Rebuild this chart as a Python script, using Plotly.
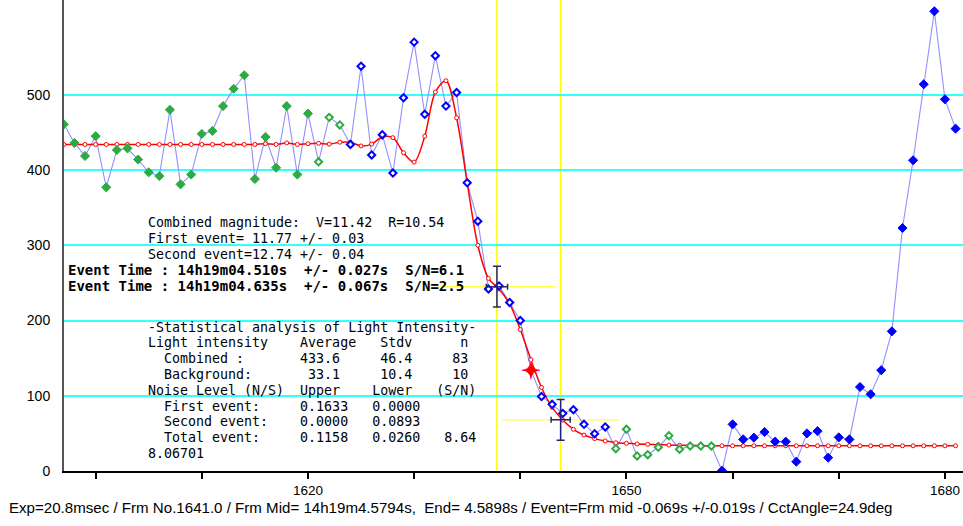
import plotly.graph_objects as go

# ---------------- data ----------------
frames = list(range(1597, 1682))
intensity = [
    460.7, 436, 418.6, 445, 377, 426.6, 428.8, 414, 397, 392,      # 1597-1606
    480, 381, 394, 448, 452, 485, 508, 526, 388, 444,              # 1607-1616
    403, 485, 394, 475, 411, 470, 460, 434, 538, 420,              # 1617-1626
    447, 396, 496, 570, 474, 552, 485, 503, 383, 332,              # 1627-1636
    242, 246, 224, 200, 134, 99, 88.6, 76.6, 81.5, 62,             # 1637-1646
    49.6, 58.5, 29.7, 55.4, 20, 21.7, 31.5, 47, 28.8, 33.2,        # 1647-1656
    33.2, 33.2, 0.4, 62, 42, 44.3, 51.8, 39, 39, 12.4,             # 1657-1666
    50, 53, 17.7, 44.7, 42, 111.6, 102, 134, 185.6, 323,           # 1667-1676
    413, 514, 611, 494, 455,                                       # 1677-1681
]
model = [
    434, 434, 434, 434, 434, 434, 434, 434, 434, 434,              # 1597-1606
    434, 434, 434, 434, 434, 434, 434, 434, 434, 435,              # 1607-1616
    434, 436, 434, 435, 435.5, 434.5, 437, 437, 432, 434.5,        # 1617-1626
    444, 443, 423, 410.6, 445, 503.6, 518.7, 469.5, 383, 300,      # 1627-1636
    256, 242, 222, 188, 148, 111, 84.6, 67.8, 55.4, 47.8,          # 1637-1646
    43, 40, 37.6, 36.8, 36, 35.5, 35, 34.5, 34.2, 34,              # 1647-1656
    33.8, 33.6, 33.5, 33.5, 33.5, 33.5, 33.5, 33.5, 33.5, 33.5,    # 1657-1666
    33.5, 33.5, 33.5, 33.5, 33.5, 33.5, 33.5, 33.5, 33.5, 33.5,    # 1667-1676
    33.5, 33.5, 33.5, 33.5, 33.5,                                  # 1677-1681
]
# point classes: (name, first frame, last frame)
segments = [
    ("green_filled", 1597, 1620),
    ("green_open", 1621, 1623),
    ("blue_open", 1624, 1648),
    ("green_open", 1649, 1658),
    ("blue_filled", 1659, 1681),
]
current_frame = 1641

event_frames = [1637.8, 1643.8]
event_levels = [245, 68]
event_xerr = [1.0, 0.9]
event_yerr = [27, 27]
event_span = [5.5, 5.5]

x_tick_vals = [1600, 1610, 1620, 1630, 1640, 1650, 1660, 1670, 1680]
x_tick_text = ["", "", "1620", "", "", "1650", "", "", "1680"]
y_tick_vals = [0, 100, 200, 300, 400, 500]
y_tick_text = ["0", "100", "200", "300", "400", "500"]
x_range = [1597.02, 1681.7]
y_range = [0, 626]

# ---------------- styles ----------------
GREEN = "#2eaa44"
BLUE = "#0000ff"
styles = {
    "green_filled": dict(symbol="diamond", size=7, color=GREEN, line=dict(color=GREEN, width=1)),
    "green_open": dict(symbol="diamond", size=5.5, color="white", line=dict(color=GREEN, width=2)),
    "blue_open": dict(symbol="diamond", size=5.5, color="white", line=dict(color=BLUE, width=2)),
    "blue_filled": dict(symbol="diamond", size=7, color=BLUE, line=dict(color=BLUE, width=1)),
}

fig = go.Figure()

# yellow event lines (below data)
for ef, el, sp in zip(event_frames, event_levels, event_span):
    fig.add_shape(type="line", xref="x", yref="paper", x0=ef, x1=ef, y0=0, y1=1,
                  line=dict(color="#ffff00", width=1.6), layer="below")
    fig.add_shape(type="line", xref="x", yref="y", x0=ef - sp, x1=ef + sp, y0=el, y1=el,
                  line=dict(color="#ffff44", width=1.4), layer="below")

# connecting line through observations
fig.add_trace(go.Scatter(x=frames, y=intensity, mode="lines",
                         line=dict(color="#9090ff", width=1.1), hoverinfo="skip"))

# model curve
fig.add_trace(go.Scatter(x=frames, y=model, mode="lines+markers",
                         line=dict(color="#ff0000", width=1.5, shape="spline", smoothing=0.9),
                         marker=dict(symbol="circle", size=4, color="white",
                                     line=dict(color="#ff0000", width=1))))

# observation markers by class
for name, f0, f1 in segments:
    xs, ys = [], []
    for f, v in zip(frames, intensity):
        if f0 <= f <= f1 and f != current_frame:
            xs.append(f)
            ys.append(v)
    fig.add_trace(go.Scatter(x=xs, y=ys, mode="markers", marker=styles[name]))

# event error bars
fig.add_trace(go.Scatter(
    x=event_frames, y=event_levels, mode="markers",
    marker=dict(size=1, color="rgba(0,0,0,0)"),
    error_x=dict(type="data", array=event_xerr, color="#22227a", thickness=1.5, width=3),
    error_y=dict(type="data", array=event_yerr, color="#22227a", thickness=1.5, width=4),
))

# current frame marker
cur_val = intensity[frames.index(current_frame)]
fig.add_trace(go.Scatter(x=[current_frame], y=[cur_val], mode="markers",
                         marker=dict(symbol="cross-thin", size=13,
                                     line=dict(color="#ff33ff", width=1.5))))
fig.add_trace(go.Scatter(x=[current_frame], y=[cur_val], mode="markers",
                         marker=dict(symbol="star-diamond", size=11, color="#ff0000",
                                     line=dict(color="#ff0000", width=0.5))))

# ---------------- text ----------------
L, R, B = 64, 0, 55
PW, PH = 963 - L - R, 526 - B


def px(x, y):
    return (x - L) / PW, (PH - y) / PH


MONO = "DejaVu Sans Mono"


def add_text(x, y, text, size=13.3, bold=False, family=MONO):
    xx, yy = px(x, y)
    t = text.replace(" ", "\u00a0")
    if bold:
        t = "<b>" + t + "</b>"
    fig.add_annotation(xref="paper", yref="paper", x=xx, y=yy, text=t, showarrow=False,
                       xanchor="left", yanchor="middle",
                       font=dict(family=family, size=size, color="black"))


info_lines = [
    "Combined magnitude:  V=11.42  R=10.54",
    "First event= 11.77 +/- 0.03",
    "Second event=12.74 +/- 0.04",
]
for i, s in enumerate(info_lines):
    add_text(146, 222 + 16 * i, s)

event_lines = [
    "Event Time : 14h19m04.510s  +/- 0.027s  S/N=6.1",
    "Event Time : 14h19m04.635s  +/- 0.067s  S/N=2.5",
]
for i, s in enumerate(event_lines):
    add_text(66, 270 + 16 * i, s, size=14, bold=True)

stat_lines = [
    "-Statistical analysis of Light Intensity-",
    "Light intensity    Average   Stdv      n",
    "  Combined :       433.6     46.4     83",
    "  Background:       33.1     10.4     10",
    "Noise Level (N/S)  Upper    Lower   (S/N)",
    "  First event:     0.1633   0.0000",
    "  Second event:    0.0000   0.0893",
    "  Total event:     0.1158   0.0260   8.64",
    "8.06701",
]
for i, s in enumerate(stat_lines):
    add_text(146, 327 + 15.8 * i, s)

footer = ("Exp=20.8msec / Frm No.1641.0 / Frm Mid= 14h19m4.5794s,  End= 4.5898s / "
          "Event=Frm mid -0.069s +/-0.019s / CctAngle=24.9deg")
add_text(7, 507, footer, size=15.1, family="Liberation Sans")

# ---------------- layout ----------------
fig.update_layout(
    width=963, height=526,
    margin=dict(l=L, r=R, t=0, b=B, pad=0, autoexpand=False),
    paper_bgcolor="white", plot_bgcolor="white",
    showlegend=False,
    font=dict(family="Liberation Sans", size=13, color="black"),
    xaxis=dict(range=x_range, tickmode="array", tickvals=x_tick_vals, ticktext=x_tick_text,
               ticks="outside", ticklen=6, tickwidth=1.5, tickcolor="black", automargin=False,
               showgrid=False, zeroline=False, showline=True, linecolor="black", linewidth=2,
               tickfont=dict(family="Liberation Sans", size=13.5, color="black")),
    yaxis=dict(range=y_range, tickmode="array", tickvals=y_tick_vals, ticktext=y_tick_text,
               ticks="", ticklabelstandoff=9, automargin=False,
               showgrid=True, gridcolor="#33ffff", gridwidth=2, zeroline=False,
               showline=True, linecolor="#555555", linewidth=2,
               tickfont=dict(family="Liberation Sans", size=14, color="black")),
)

fig.write_html("out.html", config={"displayModeBar": False},
               post_script="document.body.style.margin='0px';document.body.style.overflow='hidden';")
